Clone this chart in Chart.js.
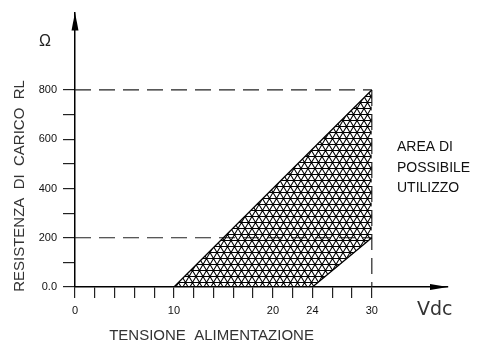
<!DOCTYPE html>
<html>
<head>
<meta charset="utf-8">
<script src="https://cdn.jsdelivr.net/npm/chart.js@4.4.1/dist/chart.umd.min.js"></script>
<style>
  html, body { margin: 0; padding: 0; background: #fff; }
</style>
</head>
<body>
<canvas id="chart" width="478" height="343"></canvas>
<script>
// Area di possibile utilizzo: upper and lower edge
const upperVolt = [10, 30];
const upperOhm = [0, 800];
const lowerVolt = [10, 24, 30];
const lowerOhm = [0, 0, 200];

// Dashed limit lines
const limitOhm = [800, 200];
const limitVolt = 30;

// Axis ticks
const xTickVals = [0, 2, 4, 6, 8, 10, 12, 14, 16, 18, 20, 22, 24, 26, 28, 30];
const xLabelVals = [0, 10, 20, 24, 30];
const yTickVals = [0, 100, 200, 300, 400, 500, 600, 700, 800];
const yLabelVals = [0, 200, 400, 600, 800];
const yLabelText = ['0.0', '200', '400', '600', '800'];

// axes run a bit past the last value, up to the arrows
const xAxisEnd = 37.7;
const yAxisEnd = 1114;

// triangular hatch used inside the area
function makeHatch() {
    const w = 7, h = 6;
    const c = document.createElement('canvas');
    c.width = w;
    c.height = h * 2;
    const g = c.getContext('2d');
    g.strokeStyle = '#000';
    g.lineWidth = 1.1;
    g.beginPath();
    g.moveTo(0, 0.5); g.lineTo(w, 0.5);
    g.moveTo(0, h + 0.5); g.lineTo(w, h + 0.5);
    g.moveTo(0, 0.5); g.lineTo(w / 2, h + 0.5); g.lineTo(w, 0.5);
    g.moveTo(0, 2 * h + 0.5); g.lineTo(w / 2, h + 0.5); g.lineTo(w, 2 * h + 0.5);
    g.stroke();
    return g.createPattern(c, 'repeat');
}

const ctx = document.getElementById('chart').getContext('2d');

const toPoints = (xs, ys) => xs.map((v, i) => ({ x: v, y: ys[i] }));

const dashed = {
    borderColor: '#222',
    borderWidth: 1.2,
    borderDash: [16, 8],
    pointRadius: 0,
    fill: false
};

const datasets = [{
    data: toPoints(upperVolt, upperOhm),
    fill: '+1',
    backgroundColor: makeHatch(),
    borderColor: '#000',
    borderWidth: 1.3,
    pointRadius: 0
}, {
    data: toPoints(lowerVolt, lowerOhm),
    fill: false,
    borderColor: '#000',
    borderWidth: 1.3,
    pointRadius: 0
}];

limitOhm.forEach(r => {
    datasets.push(Object.assign({ data: [{ x: 0, y: r }, { x: limitVolt, y: r }] }, dashed));
});
datasets.push(Object.assign({ data: [{ x: limitVolt, y: limitOhm[0] }, { x: limitVolt, y: 0 }] }, dashed));

// arrows and free text around the axes
const decorations = {
    id: 'decorations',
    afterDraw(chart) {
        const g = chart.ctx;
        const xs = chart.scales.x, ys = chart.scales.y;
        const x0 = xs.getPixelForValue(0), y0 = ys.getPixelForValue(0);
        const xEnd = xs.getPixelForValue(xAxisEnd), yEnd = ys.getPixelForValue(yAxisEnd);
        g.save();
        g.fillStyle = '#000';
        // y arrow
        g.beginPath();
        g.moveTo(x0, yEnd);
        g.lineTo(x0 - 3.5, yEnd + 18);
        g.lineTo(x0 + 3.5, yEnd + 18);
        g.closePath();
        g.fill();
        // x arrow
        g.beginPath();
        g.moveTo(xEnd, y0);
        g.lineTo(xEnd - 18, y0 - 3);
        g.lineTo(xEnd - 18, y0 + 3);
        g.closePath();
        g.fill();

        g.fillStyle = '#222';
        g.textBaseline = 'middle';
        g.font = '16px "Liberation Sans", Arial, sans-serif';
        g.textAlign = 'center';
        g.fillText('Ω', 45, 42);

        g.font = '19px "DejaVu Sans", sans-serif';
        g.textAlign = 'left';
        g.fillStyle = '#333';
        g.fillText('Vdc', 417, 310);

        g.font = '15px "Liberation Sans", Arial, sans-serif';
        g.textAlign = 'center';
        g.fillText('TENSIONE  ALIMENTAZIONE', xs.getPixelForValue(13.8), 336);

        g.save();
        g.translate(20, ys.getPixelForValue(410));
        g.rotate(-Math.PI / 2);
        g.fillText('RESISTENZA  DI  CARICO  RL', 0, 0);
        g.restore();

        g.fillStyle = '#111';
        g.font = '14px "Liberation Sans", Arial, sans-serif';
        g.textAlign = 'left';
        g.fillText('AREA DI', 397, 147);
        g.fillText('POSSIBILE', 397, 168);
        g.fillText('UTILIZZO', 397, 188);
        g.restore();
    }
};

new Chart(ctx, {
    type: 'line',
    data: { datasets: datasets },
    options: {
        responsive: false,
        animation: false,
        layout: { padding: { top: 10, right: 30, left: 0, bottom: 0 } },
        plugins: {
            legend: { display: false },
            tooltip: { enabled: false }
        },
        scales: {
            x: {
                type: 'linear',
                min: 0,
                max: xAxisEnd,
                afterBuildTicks: s => { s.ticks = xTickVals.map(v => ({ value: v })); },
                afterFit: s => { s.height = 56; },
                grid: {
                    drawOnChartArea: false,
                    drawTicks: true,
                    tickLength: 11,
                    color: '#222',
                    lineWidth: 1.2
                },
                border: { display: true, color: '#000', width: 1.5 },
                ticks: {
                    autoSkip: false,
                    maxRotation: 0,
                    padding: 6,
                    color: '#111',
                    font: { family: '"Liberation Sans", Arial, sans-serif', size: 11 },
                    callback: v => xLabelVals.includes(v) ? String(v) : ''
                }
            },
            y: {
                type: 'linear',
                min: 0,
                max: yAxisEnd,
                afterBuildTicks: s => { s.ticks = yTickVals.map(v => ({ value: v })); },
                afterFit: s => { s.width = 75; },
                grid: {
                    drawOnChartArea: false,
                    drawTicks: true,
                    tickLength: 12,
                    color: '#222',
                    lineWidth: 1.2
                },
                border: { display: true, color: '#000', width: 1.5 },
                ticks: {
                    autoSkip: false,
                    padding: 6,
                    color: '#111',
                    font: { family: '"Liberation Sans", Arial, sans-serif', size: 11 },
                    callback: v => {
                        const i = yLabelVals.indexOf(v);
                        return i >= 0 ? yLabelText[i] : '';
                    }
                }
            }
        }
    },
    plugins: [decorations]
});
</script>
</body>
</html>
